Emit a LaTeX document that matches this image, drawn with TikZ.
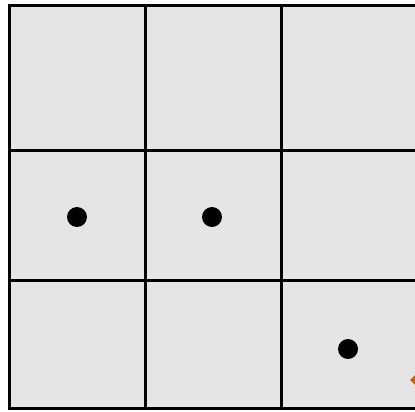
\documentclass[tikz,border=0pt]{standalone}
\begin{document}
\begin{tikzpicture}[x=1pt,y=-1pt,
  gridline/.style={line width=3pt,black},
  dot/.style={circle,fill=black,inner sep=0pt,minimum size=20pt}]
\definecolor{cellgray}{RGB}{229,229,229}
\definecolor{marker}{RGB}{200,100,10}
\useasboundingbox (0,0) rectangle (415,412);
\begin{scope}
\clip (0,0) rectangle (415,412);
\fill[cellgray] (9,5.5) rectangle (417,408);
\foreach \x in {9,145,281,417} \draw[gridline] (\x,5.5) -- (\x,408);
\foreach \y in {5.5,150,280,408} \draw[gridline] (7.5,\y) -- (418,\y);
\node[dot] (d1) at (77,217) {};
\node[dot] (d2) at (212,217) {};
\node[dot] (d3) at (348,349) {};
\fill[marker] (417,373) -- (424,380) -- (417,387) -- (410,380) -- cycle;
\fill[red!80!marker] (417,377) -- (420,380) -- (417,383) -- (414,380) -- cycle;
\end{scope}
\end{tikzpicture}
\end{document}
